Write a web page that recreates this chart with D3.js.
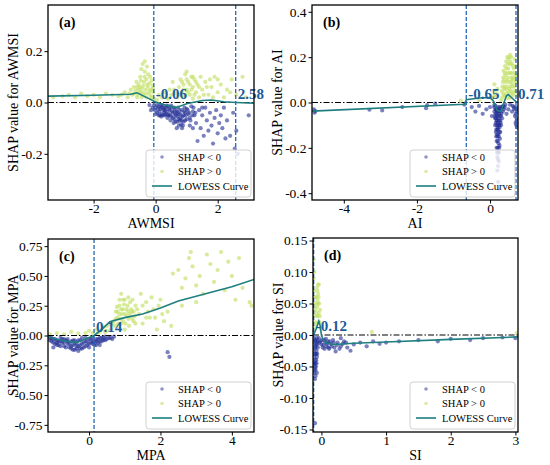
<!DOCTYPE html>
<html lang="en">
<head>
<meta charset="UTF-8" />
<title>SHAP dependence plots</title>
<script src="https://d3js.org/d3.v7.min.js"></script>
<style>
  body { margin: 0; background: #fff; }
  text { font-family: "Liberation Serif", "Times New Roman", serif; }
</style>
</head>
<body>
<script>
// ---- data ----
// (a) AWMSI
var aNeg = [[-0.2,-0.01],[-0.15,-0.03],[-0.05,-0.01],[-0.02,-0.03],[0.0,-0.02],[0.05,-0.04],[0.1,-0.015],[0.12,-0.035],[0.15,-0.025],[0.2,-0.045],
  [0.22,-0.01],[0.25,-0.03],[0.3,-0.05],[0.32,-0.02],[0.35,-0.035],[0.4,-0.015],[0.42,-0.045],[0.45,-0.03],[0.5,-0.055],[0.52,-0.02],
  [0.55,-0.04],[0.6,-0.065],[0.62,-0.03],[0.65,-0.05],[0.7,-0.075],[0.72,-0.02],[0.75,-0.045],[0.8,-0.06],[0.82,-0.085],[0.85,-0.03],
  [0.9,-0.05],[0.95,-0.07],[1.0,-0.025],[1.05,-0.045],[1.1,-0.06],[1.15,-0.015],[1.2,-0.035],[1.25,-0.05],[0.05,-0.01],[0.18,-0.055],
  [0.38,-0.06],[0.58,-0.08],[0.68,-0.1],[0.78,-0.07],[0.88,-0.09],[0.1,-0.05],[0.28,-0.04],[0.48,-0.07],[0.62,-0.045],[0.92,-0.035],
  [-0.1,-0.02],[0.0,-0.045],[0.08,-0.025],[0.14,-0.05],[0.17,-0.012],[0.24,-0.05],[0.27,-0.022],[0.33,-0.045],[0.36,-0.012],[0.43,-0.025],
  [0.46,-0.05],[0.53,-0.035],[0.56,-0.06],[0.6,-0.02],[0.64,-0.075],[0.67,-0.035],[0.7,-0.055],[0.74,-0.065],[0.77,-0.03],[0.8,-0.045],
  [0.84,-0.07],[0.87,-0.055],[0.9,-0.075],[0.93,-0.02],[0.97,-0.05],[1.0,-0.065],[1.03,-0.03],[1.08,-0.04],[1.12,-0.07],[1.18,-0.05],
  [1.22,-0.02],[1.28,-0.04],[0.5,-0.012],[0.3,-0.03],[0.2,-0.02],[0.4,-0.05],[0.7,-0.04],[0.95,-0.04],[0.75,-0.09],[0.85,-0.1],
  [1.3,-0.08],[1.4,-0.03],[1.45,-0.1],[1.5,-0.05],[1.55,-0.13],[1.6,-0.02],[1.65,-0.07],[1.7,-0.11],[1.75,-0.04],[1.8,-0.09],
  [1.85,-0.16],[1.9,-0.06],[1.95,-0.03],[2.0,-0.12],[2.05,-0.08],[2.1,-0.05],[2.15,-0.1],[2.2,-0.02],[2.3,-0.07],[2.4,-0.13],
  [2.5,-0.04],[2.55,-0.18],[2.6,-0.11],[2.65,-0.2],[3.0,-0.05],[1.35,-0.15],[1.2,-0.1],[1.1,-0.09],[2.25,-0.14],[1.5,-0.02]];
var aPos = [[-3.3,0.02],[-3.0,0.025],[-2.8,0.03],[-2.6,0.02],[-2.4,0.035],[-2.2,0.025],[-2.0,0.03],[-1.8,0.02],[-1.6,0.035],[-1.4,0.03],
  [-1.2,0.025],[-1.0,0.04],[-0.9,0.02],[-0.8,0.05],[-0.75,0.03],[-0.7,0.06],[-0.65,0.045],[-0.6,0.02],[-0.55,0.07],[-0.5,0.04],
  [-0.5,0.1],[-0.45,0.055],[-0.42,0.15],[-0.4,0.03],[-0.38,0.08],[-0.35,0.12],[-0.33,0.05],[-0.3,0.02],[-0.3,0.09],[-0.28,0.14],
  [-0.25,0.06],[-0.22,0.035],[-0.2,0.075],[-0.18,0.1],[-0.15,0.05],[-0.12,0.02],[-0.1,0.065],[-0.08,0.04],[-0.05,0.015],[-0.6,0.06],
  [-0.7,0.035],[-0.45,0.02],[-0.55,0.05],[-0.62,0.08],[-0.58,0.03],[-0.52,0.06],[-0.48,0.085],[-0.44,0.04],[-0.4,0.065],[-0.36,0.1],
  [-0.32,0.035],[-0.27,0.07],[-0.24,0.11],[-0.2,0.045],[-0.16,0.025],[-0.13,0.085],[-0.08,0.055],[-0.35,0.16],[-0.46,0.13],[-0.85,0.035],
  [-1.1,0.03],[0.05,0.01],[0.1,0.03],[0.2,0.02],[0.3,0.04],[0.4,0.015],[0.5,0.03],[0.6,0.05],
  [0.7,0.02],[0.75,0.06],[0.8,0.09],[0.85,0.04],[0.9,0.07],[0.95,0.11],[1.0,0.05],[1.05,0.08],[1.1,0.03],[1.15,0.1],
  [1.2,0.06],[1.25,0.09],[1.3,0.04],[1.35,0.07],[1.4,0.02],[1.5,0.05],[1.6,0.08],[1.7,0.03],[1.8,0.06],[1.9,0.1],
  [0.8,0.03],[0.85,0.08],[0.9,0.05],[0.95,0.03],[1.0,0.09],[1.05,0.04],[1.1,0.07],[1.15,0.05],[1.2,0.1],[1.25,0.03],
  [1.3,0.08],[1.4,0.06],[1.45,0.1],[1.55,0.03],[1.65,0.06],[1.75,0.09],[0.65,0.035],[0.45,0.05],[0.35,0.02],[2.4,0.04],
  [2.0,0.09],[1.85,0.02],[2.0,0.04],[2.1,0.07],[2.2,0.02],[2.3,0.05],[2.45,0.09],[2.6,0.03],[2.8,0.1],[2.9,0.02],
  [1.0,0.12],[0.9,0.02],[1.2,0.015],[0.55,0.08]];
var aCurve = [[-3.47,0.025],[-2,0.028],[-0.8,0.032],[-0.6,0.038],[-0.3,0.02],[0,0.002],[0.3,-0.01],[0.65,-0.02],[1.0,-0.005],
  [1.5,0.008],[1.8,0.01],[2.2,0.003],[2.6,0.0],[3.17,-0.003]];

// (b) AI
var bNeg = [[-4.82,-0.03],[-4.8,-0.045],[-4.78,-0.038],[-3.3,-0.032],[-2.95,-0.035],[-2.4,-0.02],[-1.75,-0.025],[-1.72,-0.012],[-1.5,-0.005],[-0.7,-0.01],
  [-0.5,-0.02],[-0.4,-0.04],[-0.3,-0.015],[-0.2,-0.05],[-0.1,-0.03],[0.0,-0.02],[0.05,-0.06],
  [0.12,-0.01],[0.15,-0.03],[0.18,-0.05],[0.2,-0.08],[0.22,-0.02],[0.25,-0.1],[0.28,-0.04],[0.3,-0.06],[0.14,-0.07],[0.17,-0.12],
  [0.2,-0.15],[0.23,-0.18],[0.26,-0.13],[0.29,-0.09],[0.32,-0.02],[0.21,-0.2],[0.24,-0.22],[0.22,-0.25],[0.19,-0.1],[0.16,-0.09],
  [0.27,-0.16],[0.25,-0.05],[0.18,-0.17],[0.2,-0.3],[0.22,-0.35],[0.24,-0.38],[0.35,-0.04],[0.4,-0.02],[0.45,-0.05],[0.5,-0.03],
  [0.55,-0.01],[0.6,-0.04],[0.65,-0.02],[0.68,-0.06],[0.7,-0.09],[0.72,-0.03],[0.74,-0.11],[0.73,-0.07],[0.12,-0.04],[0.27,-0.02],
  [0.23,-0.07],[0.21,-0.11],[0.19,-0.14],[0.26,-0.19],[0.23,-0.14],[0.15,-0.05],[0.2,-0.04],[0.24,-0.1],[0.18,-0.2],[0.22,-0.12],
  [0.11,-0.02],[0.13,-0.06],[0.14,-0.1],[0.15,-0.015],[0.16,-0.13],[0.17,-0.035],[0.18,-0.08],[0.19,-0.06],[0.2,-0.12],[0.21,-0.03],
  [0.21,-0.17],[0.22,-0.09],[0.23,-0.22],[0.23,-0.04],[0.24,-0.15],[0.25,-0.08],[0.25,-0.2],[0.26,-0.03],[0.26,-0.11],[0.27,-0.06],
  [0.28,-0.13],[0.29,-0.03],[0.3,-0.1],[0.31,-0.05],[0.33,-0.07],[0.34,-0.02],[0.2,-0.24],[0.22,-0.28],[0.19,-0.22],[0.24,-0.26],
  [0.17,-0.15],[0.21,-0.06],[0.18,-0.03],[0.16,-0.07],[0.28,-0.08],[0.36,-0.015],[0.38,-0.03],[0.42,-0.01],[0.7,-0.05],[0.72,-0.1],
  [0.74,-0.04],[0.71,-0.02],[0.73,-0.08],[0.66,-0.03],[0.62,-0.015]];
var bPos = [[-0.8,0.008],[-0.3,0.01],[0.05,0.02],[0.1,0.05],[0.12,0.08],[0.15,0.03],[0.2,0.06],[0.3,0.01],[0.32,0.05],[0.35,0.09],
  [0.37,0.14],[0.38,0.03],[0.4,0.07],[0.42,0.12],[0.44,0.18],[0.45,0.04],[0.47,0.1],[0.5,0.15],[0.52,0.2],[0.53,0.06],
  [0.55,0.13],[0.57,0.09],[0.6,0.17],[0.62,0.03],[0.63,0.11],[0.65,0.15],[0.67,0.07],[0.7,0.12],[0.72,0.05],[0.74,0.09],
  [0.48,0.02],[0.58,0.2],[0.41,0.16],[0.68,0.19],[0.36,0.11],[0.46,0.13],[0.54,0.17],[0.61,0.08],[0.43,0.06],[0.56,0.04],
  [0.33,0.02],[0.34,0.07],[0.36,0.04],[0.38,0.1],[0.39,0.06],[0.4,0.13],[0.42,0.03],[0.43,0.09],[0.45,0.15],[0.46,0.07],
  [0.48,0.11],[0.49,0.17],[0.5,0.05],[0.51,0.09],[0.52,0.13],[0.54,0.02],[0.55,0.07],[0.56,0.18],[0.58,0.11],[0.59,0.05],
  [0.6,0.13],[0.62,0.07],[0.63,0.16],[0.64,0.04],[0.66,0.1],[0.67,0.13],[0.69,0.05],[0.7,0.09],[0.71,0.16],[0.73,0.12],
  [0.75,0.03],[0.5,0.19],[0.47,0.2],[0.55,0.21],[0.6,0.1],[0.12,0.03],[0.18,0.04],[0.08,0.02]];
var bCurve = [[-4.87,-0.038],[-0.7,-0.008],[-0.65,0.012],[-0.3,0.02],[0.0,0.022],[0.1,0.005],[0.2,-0.035],[0.3,-0.04],
  [0.38,0.0],[0.45,0.03],[0.5,0.035],[0.6,0.02],[0.7,0.005],[0.765,0.0]];

// (c) MPA
var cNeg = [[-1.1,-0.02],[-1.05,-0.05],[-1.0,-0.03],[-0.95,-0.07],[-0.9,-0.04],[-0.85,-0.08],[-0.8,-0.02],[-0.75,-0.06],[-0.7,-0.09],[-0.65,-0.04],
  [-0.6,-0.07],[-0.55,-0.1],[-0.5,-0.05],[-0.45,-0.08],[-0.4,-0.12],[-0.35,-0.06],[-0.3,-0.09],[-0.25,-0.04],[-0.2,-0.07],[-0.15,-0.1],
  [-0.1,-0.05],[-0.05,-0.08],[0.0,-0.03],[0.05,-0.06],[0.1,-0.02],[0.15,-0.05],[0.2,-0.08],[0.25,-0.03],[0.3,-0.05],[0.35,-0.02],
  [0.4,-0.04],[0.45,-0.01],[0.5,-0.03],[0.6,-0.02],[0.7,-0.01],[-1.0,-0.1],[-0.8,-0.05],[-0.6,-0.03],[-0.4,-0.04],[-0.2,-0.02],
  [0.0,-0.1],[-0.3,-0.13],[-0.5,-0.11],[-0.1,-0.09],[0.1,-0.07],[-0.9,-0.06],[-0.7,-0.03],[0.3,-0.08],
  [-1.1,-0.04],[-1.05,-0.02],[-1.0,-0.06],[-0.95,-0.03],[-0.9,-0.08],[-0.85,-0.05],[-0.8,-0.09],[-0.75,-0.03],[-0.7,-0.06],[-0.65,-0.1],
  [-0.6,-0.05],[-0.55,-0.07],[-0.5,-0.09],[-0.45,-0.04],[-0.4,-0.07],[-0.35,-0.11],[-0.3,-0.04],[-0.25,-0.08],[-0.2,-0.11],[-0.15,-0.06],
  [-0.1,-0.02],[-0.05,-0.05],[0.0,-0.07],[0.05,-0.03],[0.1,-0.05],[0.15,-0.08],[0.2,-0.03],[0.25,-0.06],[0.3,-0.02],[0.35,-0.05],
  [0.4,-0.02],[0.45,-0.04],[0.55,-0.02],[0.65,-0.03],[-0.45,-0.12],[-0.35,-0.09],[-0.25,-0.11],[0.2,-0.05],[2.2,-0.14],[2.25,-0.18]];
var cPos = [[-1.1,0.01],[-0.9,0.02],[-0.7,0.01],[-0.5,0.03],[-0.3,0.015],[-0.1,0.02],[0.0,0.04],[0.1,0.02],[0.2,0.05],[0.3,0.03],
  [0.4,0.07],[0.5,0.04],[0.6,0.09],[0.7,0.12],[0.75,0.2],[0.8,0.15],[0.85,0.25],[0.9,0.1],[0.95,0.3],[1.0,0.18],
  [1.05,0.22],[1.1,0.14],[1.15,0.28],[1.2,0.2],[1.25,0.12],[1.3,0.25],[0.8,0.08],[0.9,0.35],[1.0,0.05],[1.1,0.32],
  [0.85,0.18],[0.95,0.22],[0.72,0.08],[0.75,0.14],[0.78,0.24],[0.8,0.2],[0.82,0.1],[0.85,0.3],[0.88,0.14],[0.9,0.22],
  [0.92,0.18],[0.95,0.12],[0.98,0.26],[1.0,0.3],[1.02,0.1],[1.05,0.17],[1.08,0.25],[1.1,0.2],[1.12,0.08],[1.15,0.18],
  [1.18,0.22],[1.2,0.14],[1.22,0.3],[1.25,0.2],[1.28,0.16],[1.3,0.1],[1.35,0.22],[0.6,0.05],[0.5,0.08],[0.45,0.03],
  [0.65,0.1],[0.35,0.05],[0.25,0.02],
  [1.4,0.18],[1.5,0.1],[1.6,0.28],[1.7,0.15],[1.8,0.22],[1.9,0.05],[2.0,0.3],[2.1,0.12],[2.2,0.2],[2.3,0.08],
  [1.45,0.35],[1.75,0.32],[1.5,0.25],[1.6,0.15],[1.65,0.2],[1.85,0.15],[1.95,0.25],[2.05,0.18],
  [2.35,0.52],[2.5,0.55],[2.6,0.4],[2.7,0.48],[2.8,0.65],[2.85,0.7],[2.9,0.58],[3.0,0.42],[3.1,0.5],[3.2,0.35],
  [3.3,0.68],[3.4,0.6],[3.5,0.45],[3.6,0.55],[3.7,0.7],[3.8,0.38],[3.9,0.62],[4.0,0.5],[4.1,0.3],[4.2,0.65],
  [4.3,0.4],[4.5,0.28],[4.55,0.25],[2.6,0.25],[3.0,0.28]];
var cCurve = [[-1.15,-0.01],[-0.8,-0.04],[-0.35,-0.06],[-0.1,-0.03],[0.14,0.0],[0.35,0.05],[0.58,0.115],[1.0,0.15],
  [1.5,0.18],[2.0,0.23],[2.5,0.29],[3.0,0.33],[3.5,0.37],[4.0,0.41],[4.62,0.47]];

// (d) SI
var dNeg = [[-0.12,-0.01],[-0.11,-0.03],[-0.1,-0.05],[-0.09,-0.02],[-0.08,-0.04],[-0.07,-0.06],[-0.06,-0.01],[-0.11,-0.045],[-0.1,-0.02],[-0.09,-0.055],
  [-0.08,-0.015],[-0.07,-0.035],[-0.12,-0.025],[-0.1,-0.04],[-0.1,-0.14],[-0.09,-0.065],
  [-0.115,-0.005],[-0.115,-0.035],[-0.105,-0.015],[-0.105,-0.055],[-0.095,-0.03],[-0.095,-0.045],[-0.085,-0.01],[-0.085,-0.05],[-0.075,-0.025],[-0.075,-0.045],
  [-0.065,-0.015],[-0.065,-0.03],[-0.055,-0.02],[-0.11,-0.06],[-0.1,-0.07],[-0.09,-0.008],[-0.08,-0.03],[-0.07,-0.005],[-0.12,-0.045],
  [-0.04,-0.005],[-0.02,-0.01],[0.0,-0.015],[0.02,-0.02],[0.04,-0.008],[0.06,-0.012],[0.08,-0.018],[0.1,-0.01],[0.12,-0.022],[0.15,-0.014],
  [0.18,-0.008],[0.2,-0.02],[0.22,-0.026],[0.25,-0.012],[0.3,-0.018],[0.35,-0.01],[0.4,-0.02],[0.5,-0.015],[0.6,-0.012],[0.7,-0.018],
  [-0.03,-0.012],[0.01,-0.008],[0.03,-0.016],[0.05,-0.022],[0.07,-0.006],[0.09,-0.014],[0.11,-0.02],[0.13,-0.01],[0.16,-0.018],[0.19,-0.012],
  [0.24,-0.016],[0.28,-0.022],[0.33,-0.014],[0.38,-0.012],
  [0.8,-0.01],[0.9,-0.014],[1.0,-0.012],[1.2,-0.01],[1.5,-0.008],[1.8,-0.01],[2.0,-0.006],[2.3,-0.008],[2.5,-0.005],[2.8,-0.004],
  [3.0,-0.005],[0.45,-0.025],[0.3,-0.005]];
var dPos = [[-0.12,0.01],[-0.12,0.05],[-0.12,0.09],[-0.12,0.12],[-0.1,0.02],[-0.09,0.04],[-0.08,0.06],[-0.07,0.03],[-0.06,0.07],[-0.05,0.05],
  [-0.04,0.08],[-0.03,0.02],[-0.02,0.04],[-0.01,0.01],[-0.06,0.03],[-0.08,0.015],[-0.05,0.065],[-0.04,0.035],
  [-0.115,0.03],[-0.115,0.07],[-0.11,0.1],[-0.105,0.045],[-0.095,0.06],[-0.085,0.035],[-0.075,0.05],[-0.065,0.045],[-0.055,0.02],[-0.045,0.06],
  [-0.035,0.05],[-0.025,0.03],[-0.07,0.075],[-0.05,0.08],[-0.06,0.055],[-0.04,0.02],[0.78,0.005],[3.02,0.003]];
var dCurve = [[-0.12,0.0],[-0.08,0.01],[-0.04,0.022],[-0.02,0.015],[0.0,0.0],[0.03,-0.008],[0.08,-0.013],[0.2,-0.015],
  [0.5,-0.013],[1.0,-0.011],[2.0,-0.007],[3.04,-0.003]];

// ticks, labels, thresholds
var panelTags = ["(a)", "(b)", "(c)", "(d)"];
var featureNames = ["AWMSI", "AI", "MPA", "SI"];
var xTicks = [[-2, 0, 2], [-4, -2, 0], [0, 2, 4], [0, 1, 2, 3]];
var yTicks = [[-0.2, 0.0, 0.2], [-0.4, -0.2, 0.0, 0.2, 0.4], [-0.75, -0.5, -0.25, 0, 0.25, 0.5, 0.75], [-0.15, -0.1, -0.05, 0, 0.05, 0.1, 0.15]];
var yDecimals = [1, 1, 2, 2];
var xDomains = [[-3.47, 3.17], [-4.87, 0.765], [-1.15, 4.62], [-0.13, 3.04]];
var yDomains = [[-0.38, 0.38], [-0.43, 0.43], [-0.81, 0.81], [-0.154, 0.154]];
var thresholds = [[-0.06, 2.58], [-0.65, 0.71], [0.14], [-0.12]];

var negSets = [aNeg, bNeg, cNeg, dNeg];
var posSets = [aPos, bPos, cPos, dPos];
var curves = [aCurve, bCurve, cCurve, dCurve];

// layout of the four frames
var frames = [
  { l: 48, t: 5, r: 254, b: 200 },
  { l: 312, t: 5, r: 518, b: 200 },
  { l: 48, t: 239, r: 254, b: 432 },
  { l: 313, t: 238, r: 518, b: 432 }
];

var blue = "#212d94", green = "#c3e067", teal = "#1f7f80", lineBlue = "#2468b4", annoBlue = "#1d5b9c";

var svg = d3.select("body").append("svg")
  .attr("width", 550)
  .attr("height", 465);

frames.forEach(function (f, i) {
  var x = d3.scaleLinear().domain(xDomains[i]).range([f.l, f.r]);
  var y = d3.scaleLinear().domain(yDomains[i]).range([f.b, f.t]);

  var g = svg.append("g");

  g.append("clipPath").attr("id", "clip" + i)
    .append("rect")
    .attr("x", f.l).attr("y", f.t)
    .attr("width", f.r - f.l).attr("height", f.b - f.t);

  var plot = g.append("g").attr("clip-path", "url(#clip" + i + ")");

  // points
  plot.selectAll("circle.pos")
    .data(posSets[i])
    .enter().append("circle")
    .attr("class", "pos")
    .attr("cx", function (d) { return x(d[0]); })
    .attr("cy", function (d) { return y(d[1]); })
    .attr("r", 2.1)
    .attr("fill", green)
    .attr("fill-opacity", 0.65);

  plot.selectAll("circle.neg")
    .data(negSets[i])
    .enter().append("circle")
    .attr("class", "neg")
    .attr("cx", function (d) { return x(d[0]); })
    .attr("cy", function (d) { return y(d[1]); })
    .attr("r", 2.1)
    .attr("fill", blue)
    .attr("fill-opacity", 0.6);

  // zero line
  plot.append("line")
    .attr("x1", f.l).attr("x2", f.r)
    .attr("y1", y(0)).attr("y2", y(0))
    .attr("stroke", "#000")
    .attr("stroke-width", 1)
    .attr("stroke-dasharray", "6,2,1.5,2");

  // lowess
  plot.append("path")
    .datum(curves[i])
    .attr("fill", "none")
    .attr("stroke", teal)
    .attr("stroke-width", 1.6)
    .attr("d", d3.line()
      .x(function (d) { return x(d[0]); })
      .y(function (d) { return y(d[1]); }));

  // threshold lines
  thresholds[i].forEach(function (t) {
    plot.append("line")
      .attr("x1", x(t)).attr("x2", x(t))
      .attr("y1", f.t).attr("y2", f.b)
      .attr("stroke", lineBlue)
      .attr("stroke-width", 1.3)
      .attr("stroke-dasharray", "4,2");
  });

  // threshold labels (not clipped, 0.71 sits outside the frame)
  thresholds[i].forEach(function (t) {
    g.append("text")
      .attr("x", x(t) + 2)
      .attr("y", y(0) - 4)
      .attr("fill", annoBlue)
      .attr("font-size", "15px")
      .attr("font-weight", "bold")
      .text(t.toFixed(2));
  });

  // axes
  var xAxis = g.append("g")
    .attr("transform", "translate(0," + f.b + ")")
    .call(d3.axisBottom(x).tickValues(xTicks[i]).tickSize(3.5).tickPadding(0)
      .tickFormat(function (d) { return String(d); }));
  var yAxis = g.append("g")
    .attr("transform", "translate(" + f.l + ",0)")
    .call(d3.axisLeft(y).tickValues(yTicks[i]).tickSize(3.5).tickPadding(2)
      .tickFormat(function (d) { return d.toFixed(yDecimals[i]); }));
  [xAxis, yAxis].forEach(function (a) {
    a.select(".domain").remove();
    a.selectAll("text").attr("font-size", "13.5px").attr("fill", "#000");
    a.selectAll("line").attr("stroke", "#000");
  });

  // frame
  g.append("rect")
    .attr("x", f.l).attr("y", f.t)
    .attr("width", f.r - f.l).attr("height", f.b - f.t)
    .attr("fill", "none")
    .attr("stroke", "#000")
    .attr("stroke-width", 1.3);

  // panel tag
  g.append("text")
    .attr("x", f.l + 11)
    .attr("y", f.t + 22)
    .attr("font-size", "14px")
    .attr("font-weight", "bold")
    .text(panelTags[i]);

  // axis titles
  g.append("text")
    .attr("x", (f.l + f.r) / 2)
    .attr("y", f.b + 27.5)
    .attr("text-anchor", "middle")
    .attr("font-size", "14px")
    .text(featureNames[i]);
  g.append("text")
    .attr("transform", "translate(" + (f.l - 30) + "," + ((f.t + f.b) / 2) + ") rotate(-90)")
    .attr("text-anchor", "middle")
    .attr("font-size", "14px")
    .text("SHAP value for " + featureNames[i]);

  // legend
  var lw = 105, lh = 47;
  var lg = g.append("g").attr("transform", "translate(" + (f.r - 3 - lw) + "," + (f.b - 3 - lh) + ")");
  lg.append("rect")
    .attr("width", lw).attr("height", lh)
    .attr("rx", 3)
    .attr("fill", "#fff").attr("fill-opacity", 0.8)
    .attr("stroke", "#d0d0d0");
  var entries = [
    { label: "SHAP < 0", kind: "dot", color: blue, op: 0.5 },
    { label: "SHAP > 0", kind: "dot", color: green, op: 0.6 },
    { label: "LOWESS Curve", kind: "line", color: teal, op: 1 }
  ];
  entries.forEach(function (e, k) {
    var cy = 7 + k * 14.5;
    if (e.kind === "dot") {
      lg.append("circle").attr("cx", 16).attr("cy", cy).attr("r", 1.8)
        .attr("fill", e.color).attr("fill-opacity", e.op);
    } else {
      lg.append("line").attr("x1", 6).attr("x2", 26).attr("y1", cy).attr("y2", cy)
        .attr("stroke", e.color).attr("stroke-width", 1.6);
    }
    lg.append("text")
      .attr("x", 32).attr("y", cy + 3.5)
      .attr("font-size", "10.5px")
      .text(e.label);
  });
});
</script>
</body>
</html>
